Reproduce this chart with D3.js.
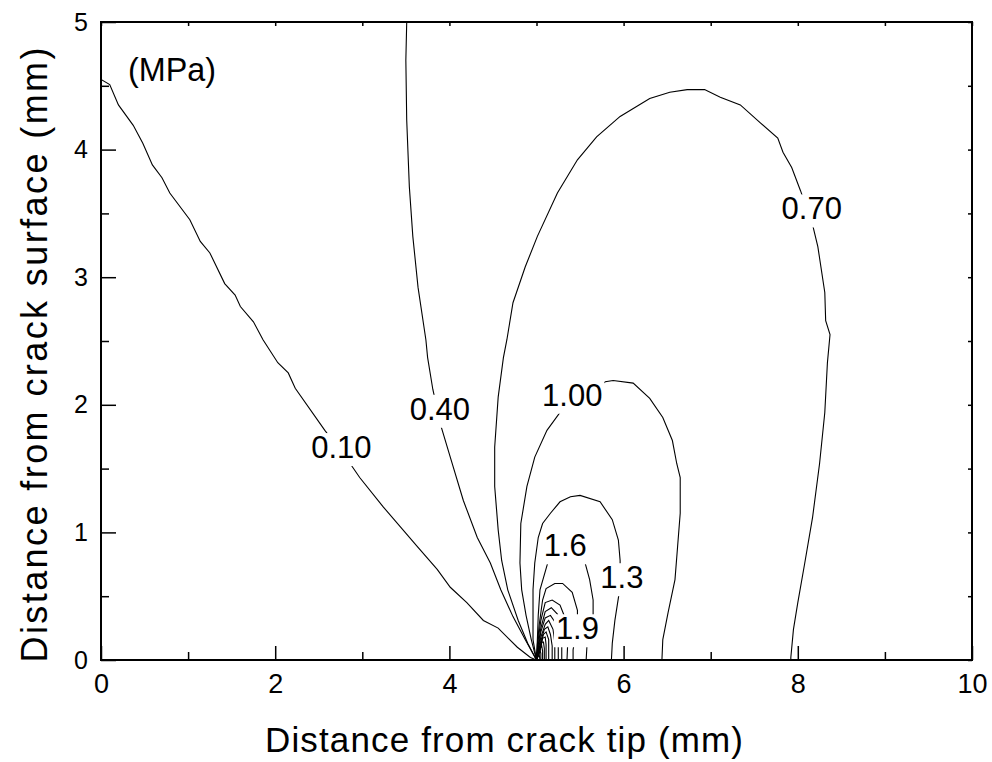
<!DOCTYPE html>
<html>
<head>
<meta charset="utf-8">
<script src="https://cdn.jsdelivr.net/npm/d3@7"></script>
<style>
	body { margin: 0; background: #fff; }
	text { font-family: Arial, "Liberation Sans", sans-serif; fill: #000; }
	.contour { fill: none; stroke: #000; stroke-width: 1.1; }
</style>
</head>
<body>
<svg class="chart"></svg>
<script>

// axis ticks
var xMajor = [0, 2, 4, 6, 8, 10];
var xMinor = [1, 3, 5, 7, 9];
var yMajor = [0, 1, 2, 3, 4, 5];
var yMinor = [0.5, 1.5, 2.5, 3.5, 4.5];

// contour lines as [x mm, y mm]
var c010 = [[0,4.55],[0.10,4.51],[0.20,4.35],[0.37,4.19],[0.48,4.05],[0.59,3.88],[0.70,3.78],[0.79,3.66],[1.02,3.45],[1.14,3.28],[1.25,3.19],[1.42,2.95],[1.54,2.86],[1.60,2.77],[1.75,2.65],[1.86,2.51],[2.03,2.33],[2.15,2.25],[2.23,2.13],[2.57,1.80],[2.86,1.54],[2.97,1.43],[3.24,1.20],[3.63,0.89],[3.86,0.71],[4.01,0.57],[4.20,0.45],[4.39,0.31],[4.56,0.25],[4.78,0.10],[4.93,0.02],[5.00,0]];
var c040 = [[3.51,5.0],[3.50,4.70],[3.51,4.23],[3.54,3.71],[3.58,3.32],[3.64,2.92],[3.73,2.51],[3.75,2.37],[3.81,2.12],[3.90,1.84],[4.01,1.59],[4.16,1.25],[4.32,0.96],[4.47,0.76],[4.59,0.55],[4.73,0.34],[4.87,0.16],[5.00,0]];
var c070 = [[5.00,0],[4.90,0.13],[4.79,0.31],[4.67,0.55],[4.60,0.78],[4.56,1.02],[4.52,1.36],[4.52,1.67],[4.56,2.06],[4.62,2.37],[4.66,2.51],[4.73,2.80],[4.87,3.08],[5.01,3.32],[5.24,3.66],[5.47,3.92],[5.69,4.10],[5.96,4.26],[6.30,4.40],[6.53,4.45],[6.73,4.47],[6.93,4.47],[7.11,4.41],[7.34,4.35],[7.57,4.21],[7.77,4.09],[7.83,3.98],[7.93,3.86],[8.03,3.68],[8.17,3.41],[8.23,3.24],[8.31,2.88],[8.32,2.66],[8.37,2.55],[8.34,2.33],[8.31,1.94],[8.25,1.54],[8.17,1.12],[8.08,0.76],[8.00,0.45],[7.95,0.24],[7.92,0.02],[7.92,0]];
var c100 = [[5.00,0],[4.94,0.16],[4.88,0.35],[4.83,0.55],[4.81,0.76],[4.82,1.07],[4.89,1.36],[4.98,1.59],[5.12,1.80],[5.27,1.94],[5.79,2.18],[5.88,2.19],[6.11,2.17],[6.30,2.05],[6.45,1.90],[6.56,1.72],[6.61,1.54],[6.65,1.43],[6.65,1.15],[6.62,0.89],[6.59,0.63],[6.51,0.37],[6.45,0.16],[6.44,0]];
var c130 = [[5.00,0],[4.96,0.16],[4.96,0.35],[4.96,0.55],[4.98,0.76],[5.02,0.96],[5.07,1.07],[5.16,1.15],[5.27,1.24],[5.39,1.28],[5.50,1.29],[5.73,1.24],[5.87,1.10],[5.94,0.94],[5.96,0.78],[5.96,0.64],[5.95,0.53],[5.90,0.31],[5.87,0.13],[5.86,0]];
var c160 = [[5.00,0],[5.01,0.16],[5.02,0.35],[5.04,0.55],[5.12,0.74],[5.18,0.88],[5.33,0.94],[5.48,0.90],[5.55,0.78],[5.61,0.63],[5.65,0.47],[5.65,0.35],[5.61,0.24],[5.58,0.12],[5.57,0]];
var c190 = [[5.00,0],[5.01,0.12],[5.03,0.27],[5.07,0.47],[5.11,0.56],[5.21,0.60],[5.30,0.60],[5.41,0.53],[5.47,0.39],[5.47,0.27],[5.44,0.16],[5.42,0.08],[5.42,0]];
var c220 = [[5.00,0],[5.02,0.16],[5.05,0.31],[5.10,0.45],[5.18,0.47],[5.27,0.43],[5.34,0.31],[5.36,0.16],[5.35,0]];
var c250 = [[5.00,0],[5.02,0.12],[5.05,0.25],[5.10,0.38],[5.17,0.41],[5.24,0.36],[5.28,0.25],[5.29,0.12],[5.29,0]];
var c280 = [[5.00,0],[5.02,0.09],[5.05,0.22],[5.10,0.33],[5.16,0.35],[5.21,0.30],[5.25,0.19],[5.25,0]];
var c310 = [[5.00,0],[5.02,0.08],[5.05,0.18],[5.10,0.28],[5.14,0.31],[5.19,0.24],[5.21,0.14],[5.21,0]];
var c340 = [[5.00,0],[5.02,0.06],[5.05,0.15],[5.09,0.24],[5.13,0.26],[5.16,0.20],[5.18,0.11],[5.18,0]];
var c370 = [[5.00,0],[5.02,0.05],[5.05,0.13],[5.08,0.20],[5.11,0.22],[5.14,0.16],[5.14,0]];
var c400 = [[5.00,0],[5.02,0.04],[5.05,0.10],[5.07,0.17],[5.10,0.18],[5.11,0.12],[5.11,0]];
var c430 = [[5.00,0],[5.02,0.03],[5.04,0.08],[5.06,0.14],[5.08,0.14],[5.09,0.09],[5.09,0]];
var c460 = [[5.00,0],[5.02,0.03],[5.04,0.09],[5.06,0.11],[5.07,0.07],[5.07,0]];
var c490 = [[5.00,0],[5.03,0.06],[5.04,0.08],[5.05,0.05],[5.05,0]];
var c520 = [[5.00,0],[5.02,0.04],[5.03,0.05],[5.04,0]];

// contour labels
var labelText = ["0.10", "0.40", "0.70", "1.00", "1.6", "1.3", "1.9"];
var labelX = [2.76, 3.89, 8.16, 5.41, 5.33, 5.98, 5.47];
var labelY = [1.67, 1.97, 3.54, 2.08, 0.90, 0.65, 0.25];


var chartWidth = 992;
var chartHeight = 762;
var plotLeft = 101, plotRight = 972, plotTop = 22, plotBottom = 660;

var svg = d3.select('.chart').attr("width", chartWidth).attr("height", chartHeight);

var x = d3.scaleLinear().domain([0, 10]).range([plotLeft, plotRight]);
var y = d3.scaleLinear().domain([0, 5]).range([plotBottom, plotTop]);

svg.append("clipPath").attr("id", "plotClip")
	.append("rect")
	.attr("x", plotLeft).attr("y", plotTop)
	.attr("width", plotRight - plotLeft).attr("height", plotBottom - plotTop);

var contours = [c010, c040, c070, c100, c130, c160, c190, c220, c250, c280, c310, c340, c370, c400, c430, c460, c490, c520];

var line = d3.line()
	.x(function(d) { return x(d[0]); })
	.y(function(d) { return y(d[1]); });

svg.append("g").attr("clip-path", "url(#plotClip)")
	.selectAll("path").data(contours).enter()
	.append("path")
	.attr("class", "contour")
	.attr("d", line);

// labels sit on a white patch that cuts the line
var labels = svg.selectAll(".clabel").data(labelText).enter()
	.append("g").attr("class", "clabel");

labels.append("text")
	.attr("x", function(d, i) { return x(labelX[i]); })
	.attr("y", function(d, i) { return y(labelY[i]); })
	.attr("dy", "0.36em")
	.attr("text-anchor", "middle")
	.style("font-size", "31px")
	.text(function(d) { return d; });

labels.each(function() {
	var g = d3.select(this);
	var b = g.select("text").node().getBBox();
	g.insert("rect", "text")
		.attr("x", b.x - 2).attr("y", b.y + 3)
		.attr("width", b.width + 4).attr("height", b.height - 2)
		.attr("fill", "#fff");
});

function buildXAxis() {
	svg.append("g")
		.attr("transform", "translate(0," + plotBottom + ")")
		.call(d3.axisBottom(x).tickValues(xMajor).tickSizeInner(-14).tickSizeOuter(0).tickPadding(14).tickFormat(d3.format("d")))
		.call(styleAxis, "27px");
	svg.append("g")
		.attr("transform", "translate(0," + plotBottom + ")")
		.call(d3.axisBottom(x).tickValues(xMinor).tickSizeInner(-8).tickSizeOuter(0).tickFormat(""))
		.call(styleAxis);
	// short ticks along the top
	svg.append("g")
		.attr("transform", "translate(0," + plotTop + ")")
		.call(d3.axisTop(x).tickValues(xMajor.concat(xMinor)).tickSizeInner(-4).tickSizeOuter(0).tickFormat(""))
		.call(styleAxis);

	svg.append("text")
		.attr("x", 504)
		.attr("y", 752)
		.attr("text-anchor", "middle")
		.attr("textLength", 478)
		.attr("lengthAdjust", "spacing")
		.style("font-size", "35px")
		.text("Distance from crack tip (mm)");
}

function buildYAxis() {
	svg.append("g")
		.attr("transform", "translate(" + plotLeft + ",0)")
		.call(d3.axisLeft(y).tickValues(yMajor).tickSizeInner(-15).tickSizeOuter(0).tickPadding(13).tickFormat(d3.format("d")))
		.call(styleAxis, "25px");
	svg.append("g")
		.attr("transform", "translate(" + plotLeft + ",0)")
		.call(d3.axisLeft(y).tickValues(yMinor).tickSizeInner(-8).tickSizeOuter(0).tickFormat(""))
		.call(styleAxis);
	svg.append("g")
		.attr("transform", "translate(" + plotRight + ",0)")
		.call(d3.axisRight(y).tickValues(yMajor.concat(yMinor)).tickSizeInner(-4).tickSizeOuter(0).tickFormat(""))
		.call(styleAxis);

	svg.append("text")
		.attr("transform", "translate(47," + 355 + ") rotate(-90)")
		.attr("text-anchor", "middle")
		.attr("textLength", 615)
		.attr("lengthAdjust", "spacing")
		.style("font-size", "36px")
		.text("Distance from crack surface (mm)");
}

function styleAxis(g, size) {
	g.select(".domain").remove();
	g.selectAll(".tick line").attr("stroke", "#000").attr("stroke-width", 1.5);
	g.selectAll(".tick text").attr("fill", "#000")
		.style("font-family", "Arial, 'Liberation Sans', sans-serif")
		.style("font-size", size || "24px");
}

buildXAxis();
buildYAxis();

// frame
svg.append("rect")
	.attr("x", plotLeft).attr("y", plotTop)
	.attr("width", plotRight - plotLeft).attr("height", plotBottom - plotTop)
	.attr("fill", "none").attr("stroke", "#000").attr("stroke-width", 2);

svg.append("text")
	.attr("x", 128).attr("y", 81)
	.attr("textLength", 88)
	.attr("lengthAdjust", "spacingAndGlyphs")
	.style("font-size", "34px")
	.text("(MPa)");

</script>
</body>
</html>
